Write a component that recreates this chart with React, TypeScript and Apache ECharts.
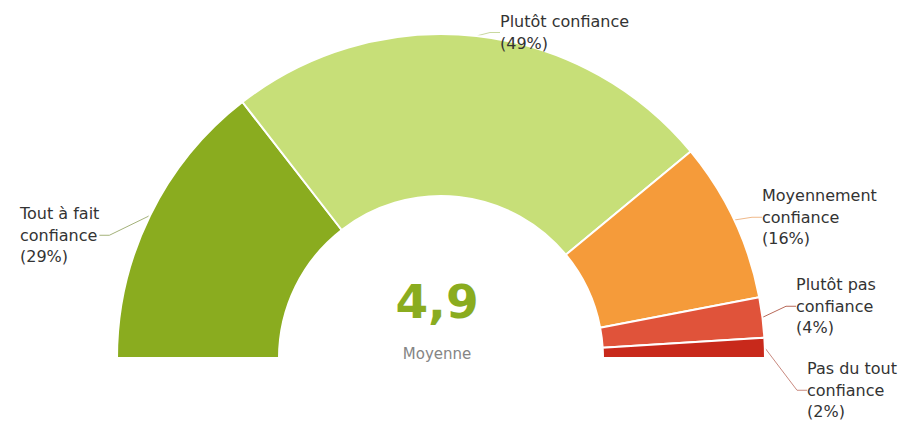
import React, { useEffect, useRef } from "react";
import * as echarts from "echarts";

const categories = [
  "Tout à fait\nconfiance",
  "Plutôt confiance",
  "Moyennement\nconfiance",
  "Plutôt pas\nconfiance",
  "Pas du tout\nconfiance",
];
const values = [29, 49, 16, 4, 2];
const colors = ["#8aac1f", "#c7df78", "#f59b3a", "#e0533a", "#c8291b"];
const lineColors = ["#a4b27a", "#c9d9a0", "#f0b98a", "#b86a5a", "#c98a80"];
const averageValue = "4,9";
const averageLabel = "Moyenne";

// label anchor positions (top-left of text block)
const labelPos = [
  { x: 20, y: 203 },
  { x: 500, y: 11 },
  { x: 762, y: 185 },
  { x: 796, y: 274 },
  { x: 807, y: 358 },
];

export default function App() {
  const ref = useRef<HTMLDivElement>(null);
  useEffect(() => {
    if (!ref.current) return;
    const chart = echarts.init(ref.current, null, { renderer: "svg" });
    chart.setOption({
      animation: false,
      backgroundColor: "#ffffff",
      series: [
        {
          type: "pie",
          center: [441, 358],
          radius: [162, 324],
          startAngle: 180,
          endAngle: 0,
          clockwise: true,
          avoidLabelOverlap: false,
          itemStyle: { borderColor: "#ffffff", borderWidth: 2 },
          label: {
            show: true,
            position: "outside",
            formatter: (p: any) => `${p.name}\n(${p.value}%)`,
            fontFamily: "DejaVu Sans",
            fontSize: 16,
            lineHeight: 21.5,
            color: "#333333",
            align: "left",
          },
          labelLine: { show: true, length: 10, length2: 10, lineStyle: { width: 1 } },
          labelLayout: (params: any) => {
            const p = labelPos[params.dataIndex];
            return { x: p.x, y: p.y, align: "left", verticalAlign: "top" };
          },
          emphasis: { disabled: true },
          data: categories.map((name, i) => ({
            name,
            value: values[i],
            itemStyle: { color: colors[i] },
            labelLine: { lineStyle: { color: lineColors[i] } },
          })),
        },
      ],
      graphic: [
        {
          type: "text",
          x: 437,
          y: 301,
          style: {
            text: averageValue,
            align: "center",
            verticalAlign: "middle",
            fontFamily: "DejaVu Sans",
            fontWeight: "bold",
            fontSize: 47,
            fill: "#8aac1f",
          },
        },
        {
          type: "text",
          x: 437,
          y: 354,
          style: {
            text: averageLabel,
            align: "center",
            verticalAlign: "middle",
            fontFamily: "DejaVu Sans",
            fontSize: 15,
            fill: "#858585",
          },
        },
      ],
    });
    return () => chart.dispose();
  }, []);
  return (
    <div
      ref={ref}
      style={{ position: "absolute", left: 0, top: 0, width: 904, height: 423 }}
    />
  );
}
